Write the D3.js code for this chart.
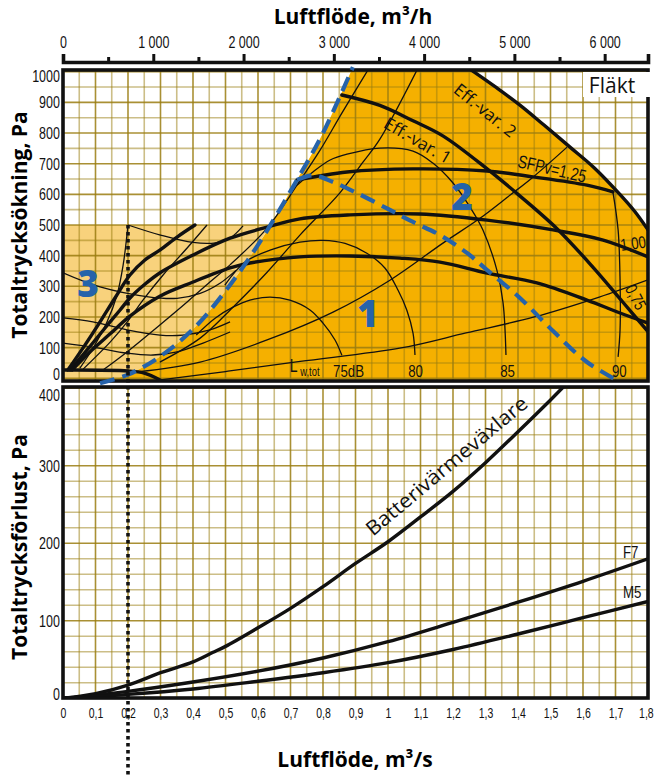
<!DOCTYPE html>
<html><head><meta charset="utf-8">
<script src="https://cdn.jsdelivr.net/npm/d3@7/dist/d3.min.js"></script>
<style>
html,body{margin:0;padding:0;background:#fff;}
svg{display:block;}
</style></head>
<body>
<svg id="chart" width="656" height="776"></svg>
<script>
// ================= DATA (q in m3/s, p in Pa) =================
const topTicksM3h = [0,1000,2000,3000,4000,5000,6000];
const topMinorM3h = [500,1500,2500,3500,4500,5500];
const fanTicks  = [0,100,200,300,400,500,600,700,800,900,1000];
const lossTicks = [0,100,200,300,400];
const flowTicks = [0,0.1,0.2,0.3,0.4,0.5,0.6,0.7,0.8,0.9,1,1.1,1.2,1.3,1.4,1.5,1.6,1.7,1.8];

// fan diagram – thick curves
const effVar2 = [[1.25,1010],[1.335,947],[1.405,892],[1.48,826],[1.56,754],[1.635,686],[1.715,598],[1.76,543],[1.8,484]];
const effVar1 = [[0.858,924],[0.975,890],[1.077,840],[1.17,790],[1.305,683],[1.4,600],[1.52,488],[1.631,362],[1.723,248],[1.8,152]];
const sfp125  = [[0.72,647],[0.874,673],[1.077,683],[1.305,676],[1.446,657],[1.612,630],[1.692,608]];
const sfp100  = [[0.022,27],[0.08,100],[0.13,165],[0.175,222],[0.206,262],[0.25,305],[0.3,345],[0.4,402],[0.514,457],[0.628,493],[0.729,520],[0.883,533],[1.098,536],[1.305,516],[1.508,484],[1.662,451],[1.8,396]];
const sfp075  = [[0.028,27],[0.089,92],[0.145,145],[0.206,203],[0.298,268],[0.4,314],[0.514,360],[0.575,376],[0.729,396],[0.883,399],[1.037,392],[1.16,379],[1.305,343],[1.458,311],[1.612,255],[1.714,213],[1.8,180]];
const lowSpeed = [[0.015,27],[0.068,109],[0.114,184],[0.16,262],[0.206,337],[0.252,386],[0.298,418],[0.354,463],[0.406,500]];
const zeroLine = [[0,27],[0.2,24],[0.25,17],[0.3,-6]];

// fan diagram – blue dashed range limits
const dashA = [[0.114,-16],[0.2,12],[0.3,72],[0.4,160],[0.5,285],[0.6,435],[0.72,647],[0.8,800],[0.892,1015]];
const dashB = [[0.72,647],[0.77,662],[0.831,640],[0.905,604],[1.006,549],[1.077,510],[1.16,467],[1.243,409],[1.305,353],[1.406,262],[1.508,154],[1.612,53],[1.714,-12]];

// fan diagram – thin curves
const sys1 = [[0.123,27],[0.197,86],[0.298,174],[0.382,249],[0.452,314],[0.514,370],[0.628,490],[0.72,630],[0.791,744],[0.858,865],[0.938,1005]];
const sys2 = [[0.298,53],[0.422,131],[0.523,232],[0.628,346],[0.729,467],[0.852,605],[0.923,705],[0.975,780],[1.089,1005]];
const sys3 = [[0.228,21],[0.422,53],[0.628,125],[0.831,216],[1.006,320],[1.169,441],[1.283,522],[1.375,597],[1.446,656],[1.551,754]];
const sys4 = [[0.3,-5],[0.5,22],[0.73,55],[1.04,99],[1.24,148],[1.45,200],[1.65,265],[1.8,321]];
const sysS1 = [[0.052,33],[0.092,98],[0.135,183],[0.166,271],[0.185,369],[0.2,500]];
const sysS2 = [[0.062,30],[0.145,118],[0.197,183],[0.246,255],[0.308,337],[0.382,425],[0.443,500]];
const lw75 = [[0.41,141],[0.468,196],[0.523,232],[0.575,255],[0.637,265],[0.698,255],[0.76,223],[0.8,180],[0.837,125],[0.858,75]];
const lw80 = [[0.498,304],[0.56,379],[0.637,418],[0.729,444],[0.8,450],[0.868,440],[0.935,408],[0.991,359],[1.031,287],[1.058,222],[1.077,147],[1.083,76]];
const lw85 = [[0.72,630],[0.769,673],[0.822,712],[0.874,731],[0.975,751],[1.077,741],[1.138,702],[1.2,637],[1.252,559],[1.292,484],[1.335,353],[1.354,246],[1.363,76]];
const lw90 = [[1.692,608],[1.708,484],[1.714,321],[1.714,158],[1.708,70]];
const low0 = [[0.2,500],[0.3,467],[0.4,443],[0.47,442],[0.514,457],[0.554,497]];
const low1 = [[0,344],[0.114,298],[0.268,265],[0.351,261],[0.422,277],[0.483,310],[0.532,352]];
const low2 = [[0,197],[0.092,184],[0.197,158],[0.298,141],[0.369,141],[0.452,158],[0.514,184]];
const low3 = [[0,115],[0.092,102],[0.197,82],[0.277,76],[0.351,86],[0.431,115],[0.514,151]];

// pressure loss diagram
const battery = [[0,0],[0.1,6],[0.2,17],[0.3,33],[0.4,47],[0.46,59],[0.5,67],[0.6,91],[0.7,116],[0.8,144],[0.9,174],[1.0,202],[1.1,234],[1.2,267],[1.3,304],[1.4,344],[1.5,385],[1.54,402]];
const filterF7 = [[0,0],[0.2,9],[0.4,21],[0.6,35],[0.8,52],[1.0,73],[1.2,98],[1.4,124],[1.6,151],[1.8,180]];
const filterM5 = [[0,0],[0.2,5],[0.4,12],[0.6,22],[0.8,33],[1.0,46],[1.2,63],[1.4,83],[1.6,104],[1.8,125]];
const designFlow = 0.2;

// ================= CHART =================
const NARROW = "'Liberation Sans','Arial',sans-serif";
const NX = 0.78;  // horizontal condensing of the narrow labels
const SANS = "'Open Sans','Noto Sans',sans-serif";
const BLUE = "#2663aa";
const svg = d3.select('#chart');

const x = d3.scaleLinear().domain([0,1.8]).range([63,648]);
const xTop = d3.scaleLinear().domain([0,6480]).range([63,648]);
const yU = d3.scaleLinear().domain([0,1000]).range([378.3,71.7]);
const yL = d3.scaleLinear().domain([0,400]).range([698.3,388.3]);
const U = {x:63,y:70,w:585,h:311};
const L = {x:63,y:387,w:585,h:311};

const defs = svg.append('defs');
defs.append('clipPath').attr('id','cu').append('rect').attr('x',U.x).attr('y',U.y).attr('width',U.w).attr('height',U.h);
defs.append('clipPath').attr('id','cl').append('rect').attr('x',L.x).attr('y',L.y).attr('width',L.w).attr('height',L.h);
defs.append('clipPath').attr('id','cd').append('rect').attr('x',U.x).attr('y',U.y-3).attr('width',U.w).attr('height',U.h+5);

const curve = d3.curveCatmullRom.alpha(0.5);
const lineU = d3.line().x(d=>x(d[0])).y(d=>yU(d[1])).curve(curve);
const lineL = d3.line().x(d=>x(d[0])).y(d=>yL(d[1])).curve(curve);

function qAt(arr,p){
  for(let i=0;i<arr.length-1;i++){const a=arr[i],b=arr[i+1];
    if((a[1]-p)*(b[1]-p)<=0){const t=(p-a[1])/(b[1]-a[1]);return a[0]+t*(b[0]-a[0]);}}
  return arr[arr.length-1][0];
}

// ---- region fills ----
const gFill = svg.append('g').attr('clip-path','url(#cu)');
const qA500 = qAt(dashA,500);
const lightPts = [[qA500,500]].concat(dashA.filter(d=>d[1]<500).reverse());
gFill.append('path').attr('fill','#f8d27c')
  .attr('d', lineU(lightPts)+`L${x(0.09)},${yU(-40)}L${x(-0.05)},${yU(-40)}L${x(-0.05)},${yU(500)}Z`);
gFill.append('path').attr('fill','#f5b000')
  .attr('d', lineU(dashA)+`L${x(1.0)},${yU(1060)}`+lineU(effVar2).replace(/^M/,'L')+
     `L${x(1.9)},${yU(484)}L${x(1.9)},${yU(-40)}L${x(0.09)},${yU(-40)}Z`);

// ---- grid ----
const gGrid = svg.append('g').attr('stroke','#9a7d10').attr('stroke-width',1.6);
const vq = d3.range(0,37).map(i=>i*0.05);
function vGrid(y0,y1){
  vq.forEach((q,i)=>{ if(i===0||i===36) return;
    gGrid.append('line').attr('x1',x(q)).attr('x2',x(q)).attr('y1',y0).attr('y2',y1)
      .attr('stroke-opacity', i%2===0?0.85:0.5);});
}
vGrid(U.y,U.y+U.h); vGrid(L.y,L.y+L.h);
d3.range(0,21).forEach(i=>{const p=i*50;
  gGrid.append('line').attr('x1',U.x).attr('x2',U.x+U.w).attr('y1',yU(p)).attr('y2',yU(p))
    .attr('stroke-opacity', p%100===0?0.85:0.5);});
d3.range(0,21).forEach(i=>{const p=i*20;
  gGrid.append('line').attr('x1',L.x).attr('x2',L.x+L.w).attr('y1',yL(p)).attr('y2',yL(p))
    .attr('stroke-opacity', p%100===0?0.85:0.5);});

// ---- upper curves ----
const gU = svg.append('g').attr('clip-path','url(#cu)').attr('fill','none').attr('stroke','#111');
[sys1,sys2,sys3,sys4,sysS1,sysS2,lw75,lw80,lw85,lw90,low0,low1,low2,low3].forEach(c=>
  gU.append('path').attr('d',lineU(c)).attr('stroke-width',1.3));
[effVar2,effVar1,sfp125,sfp100,sfp075,lowSpeed,zeroLine].forEach(c=>
  gU.append('path').attr('d',lineU(c)).attr('stroke-width',3.4).attr('stroke-linecap','round'));

// ---- lower curves ----
const gL = svg.append('g').attr('clip-path','url(#cl)').attr('fill','none').attr('stroke','#111');
[battery,filterF7,filterM5].forEach(c=>
  gL.append('path').attr('d',lineL(c)).attr('stroke-width',3.4));

// ---- frames ----
[U,L].forEach(r=>svg.append('rect').attr('x',r.x).attr('y',r.y).attr('width',r.w).attr('height',r.h)
  .attr('fill','none').attr('stroke','#111').attr('stroke-width',3.6));

// ---- dashed limits ----
const gD = svg.append('g').attr('fill','none').attr('stroke',BLUE).attr('stroke-width',4.2)
  .attr('stroke-dasharray','15,8');
gD.append('path').attr('d',lineU(dashA));
gD.append('path').attr('d',lineU(dashB)).attr('clip-path','url(#cd)');

// ---- dotted design flow ----
svg.append('line').attr('x1',x(designFlow)).attr('x2',x(designFlow)).attr('y1',yU(500)).attr('y2',776)
  .attr('stroke','#111').attr('stroke-width',3.6).attr('stroke-dasharray','3.6,3.4');

// ---- axes ----
function styleAxis(g,size,sx){
  g.selectAll('text').style('font-family',NARROW).style('font-size',size+'px').attr('fill','#111')
   .attr('transform',`scale(${sx},1)`);
}
const gTop = svg.append('g').attr('transform','translate(0,62)')
  .call(d3.axisTop(xTop).tickValues(topTicksM3h).tickSize(8).tickSizeOuter(8).tickPadding(6)
    .tickFormat(d=>d===0?'0':d3.format(',')(d).replace(',',' ')));
gTop.select('.domain').attr('stroke-width',3.6).attr('stroke','#111');
gTop.selectAll('.tick line').attr('stroke-width',3).attr('stroke','#111');
styleAxis(gTop,16,NX);
const gTopMinor = svg.append('g').attr('transform','translate(0,62)')
  .call(d3.axisTop(xTop).tickValues(topMinorM3h).tickSize(5).tickFormat(''));
gTopMinor.select('.domain').remove();
gTopMinor.selectAll('.tick line').attr('stroke-width',3).attr('stroke','#111');

const gLU = svg.append('g').attr('transform',`translate(${U.x},0)`)
  .call(d3.axisLeft(yU).tickValues(fanTicks).tickSize(0).tickPadding(4).tickFormat(d3.format('d')));
gLU.select('.domain').remove(); styleAxis(gLU,16,NX);
gLU.selectAll('.tick text').attr('dy',d=>d===1000?'0.6em':(d===0?'0.1em':'0.34em'));

const gLL = svg.append('g').attr('transform',`translate(${L.x},0)`)
  .call(d3.axisLeft(yL).tickValues(lossTicks).tickSize(0).tickPadding(4).tickFormat(d3.format('d')));
gLL.select('.domain').remove(); styleAxis(gLL,16,NX);
gLL.selectAll('.tick text').attr('dy',d=>d===400?'0.75em':(d===0?'0.05em':'0.34em'));

const gB = svg.append('g').attr('transform',`translate(0,${L.y+L.h})`)
  .call(d3.axisBottom(x).tickValues(flowTicks).tickSize(0).tickPadding(9)
    .tickFormat(d=>String(d).replace('.',',')));
gB.select('.domain').remove(); styleAxis(gB,15,0.7);
gB.selectAll('.tick text').filter(d=>d===1.8).attr('x',-3);

// ---- titles ----
svg.append('text').attr('x',353).attr('y',24).attr('text-anchor','middle')
  .style('font-family',SANS).style('font-weight',700).style('font-size','21px').text('Luftflöde, m³/h');
svg.append('text').attr('x',355).attr('y',767).attr('text-anchor','middle')
  .style('font-family',SANS).style('font-weight',700).style('font-size','21px').text('Luftflöde, m³/s');
svg.append('text').attr('transform','translate(27,225) rotate(-90)').attr('text-anchor','middle')
  .style('font-family',SANS).style('font-weight',700).style('font-size','21px').text('Totaltrycksökning, Pa');
svg.append('text').attr('transform','translate(27,547) rotate(-90)').attr('text-anchor','middle')
  .style('font-family',SANS).style('font-weight',700).style('font-size','21px').text('Totaltrycksförlust, Pa');

// ---- annotations ----
function ann(txt,px,py,o){
  const sx = o.font ? 1 : NX;
  const t = svg.append('text').attr('transform',`translate(${px},${py}) rotate(${o.rot||0}) scale(${sx},1)`)
    .attr('text-anchor',o.anchor||'middle').attr('dominant-baseline',o.base||'auto')
    .style('font-family',o.font||NARROW).style('font-size',(o.size||16)+'px')
    .attr('fill',o.fill||'#111').text(txt);
  if(o.weight) t.style('font-weight',o.weight);
  if(o.len) t.attr('textLength',o.len).attr('lengthAdjust','spacingAndGlyphs');
  return t;
}
ann('Eff.-var. 2', x(1.30), yU(875), {rot:39, font:SANS, size:17, base:'central'});
ann('Eff.-var. 1', x(1.092), yU(777), {rot:30, font:SANS, size:17, base:'central'});
ann('SFPv=1,25', x(1.505), yU(685), {rot:13, size:18, base:'central'});
ann('1,00', x(1.754), yU(441), {rot:-8, size:17, base:'central'});
ann('0,75', x(1.763), yU(265), {rot:62, size:17, base:'central'});
ann('L', x(0.698), yU(20), {anchor:'start', size:18});
ann('w,tot', x(0.73), yU(7), {anchor:'start', size:12});
ann('75dB', x(0.831), yU(4), {anchor:'start', size:17});
ann('80', x(1.062), yU(4), {anchor:'start', size:17});
ann('85', x(1.345), yU(4), {anchor:'start', size:17});
ann('90', x(1.689), yU(4), {anchor:'start', size:17});
ann('1', x(0.938), yU(213), {font:SANS, weight:800, size:37, fill:BLUE, base:'central'});
ann('2', x(1.228), yU(597), {font:SANS, weight:800, size:37, fill:BLUE, base:'central'});
ann('3', x(0.077), yU(311), {font:SANS, weight:800, size:37, fill:BLUE, base:'central'});

svg.append('rect').attr('x',583).attr('y',72).attr('width',67).attr('height',25).attr('fill','#fff');
ann('Fläkt', 612, 93, {font:SANS, size:21});

ann('Batterivärmeväxlare', x(1.194), yL(293), {rot:-40, font:SANS, size:20, len:204});
ann('F7', x(1.723), yL(181), {anchor:'start', size:17});
ann('M5', x(1.723), yL(130), {anchor:'start', size:17});
</script>
</body></html>
